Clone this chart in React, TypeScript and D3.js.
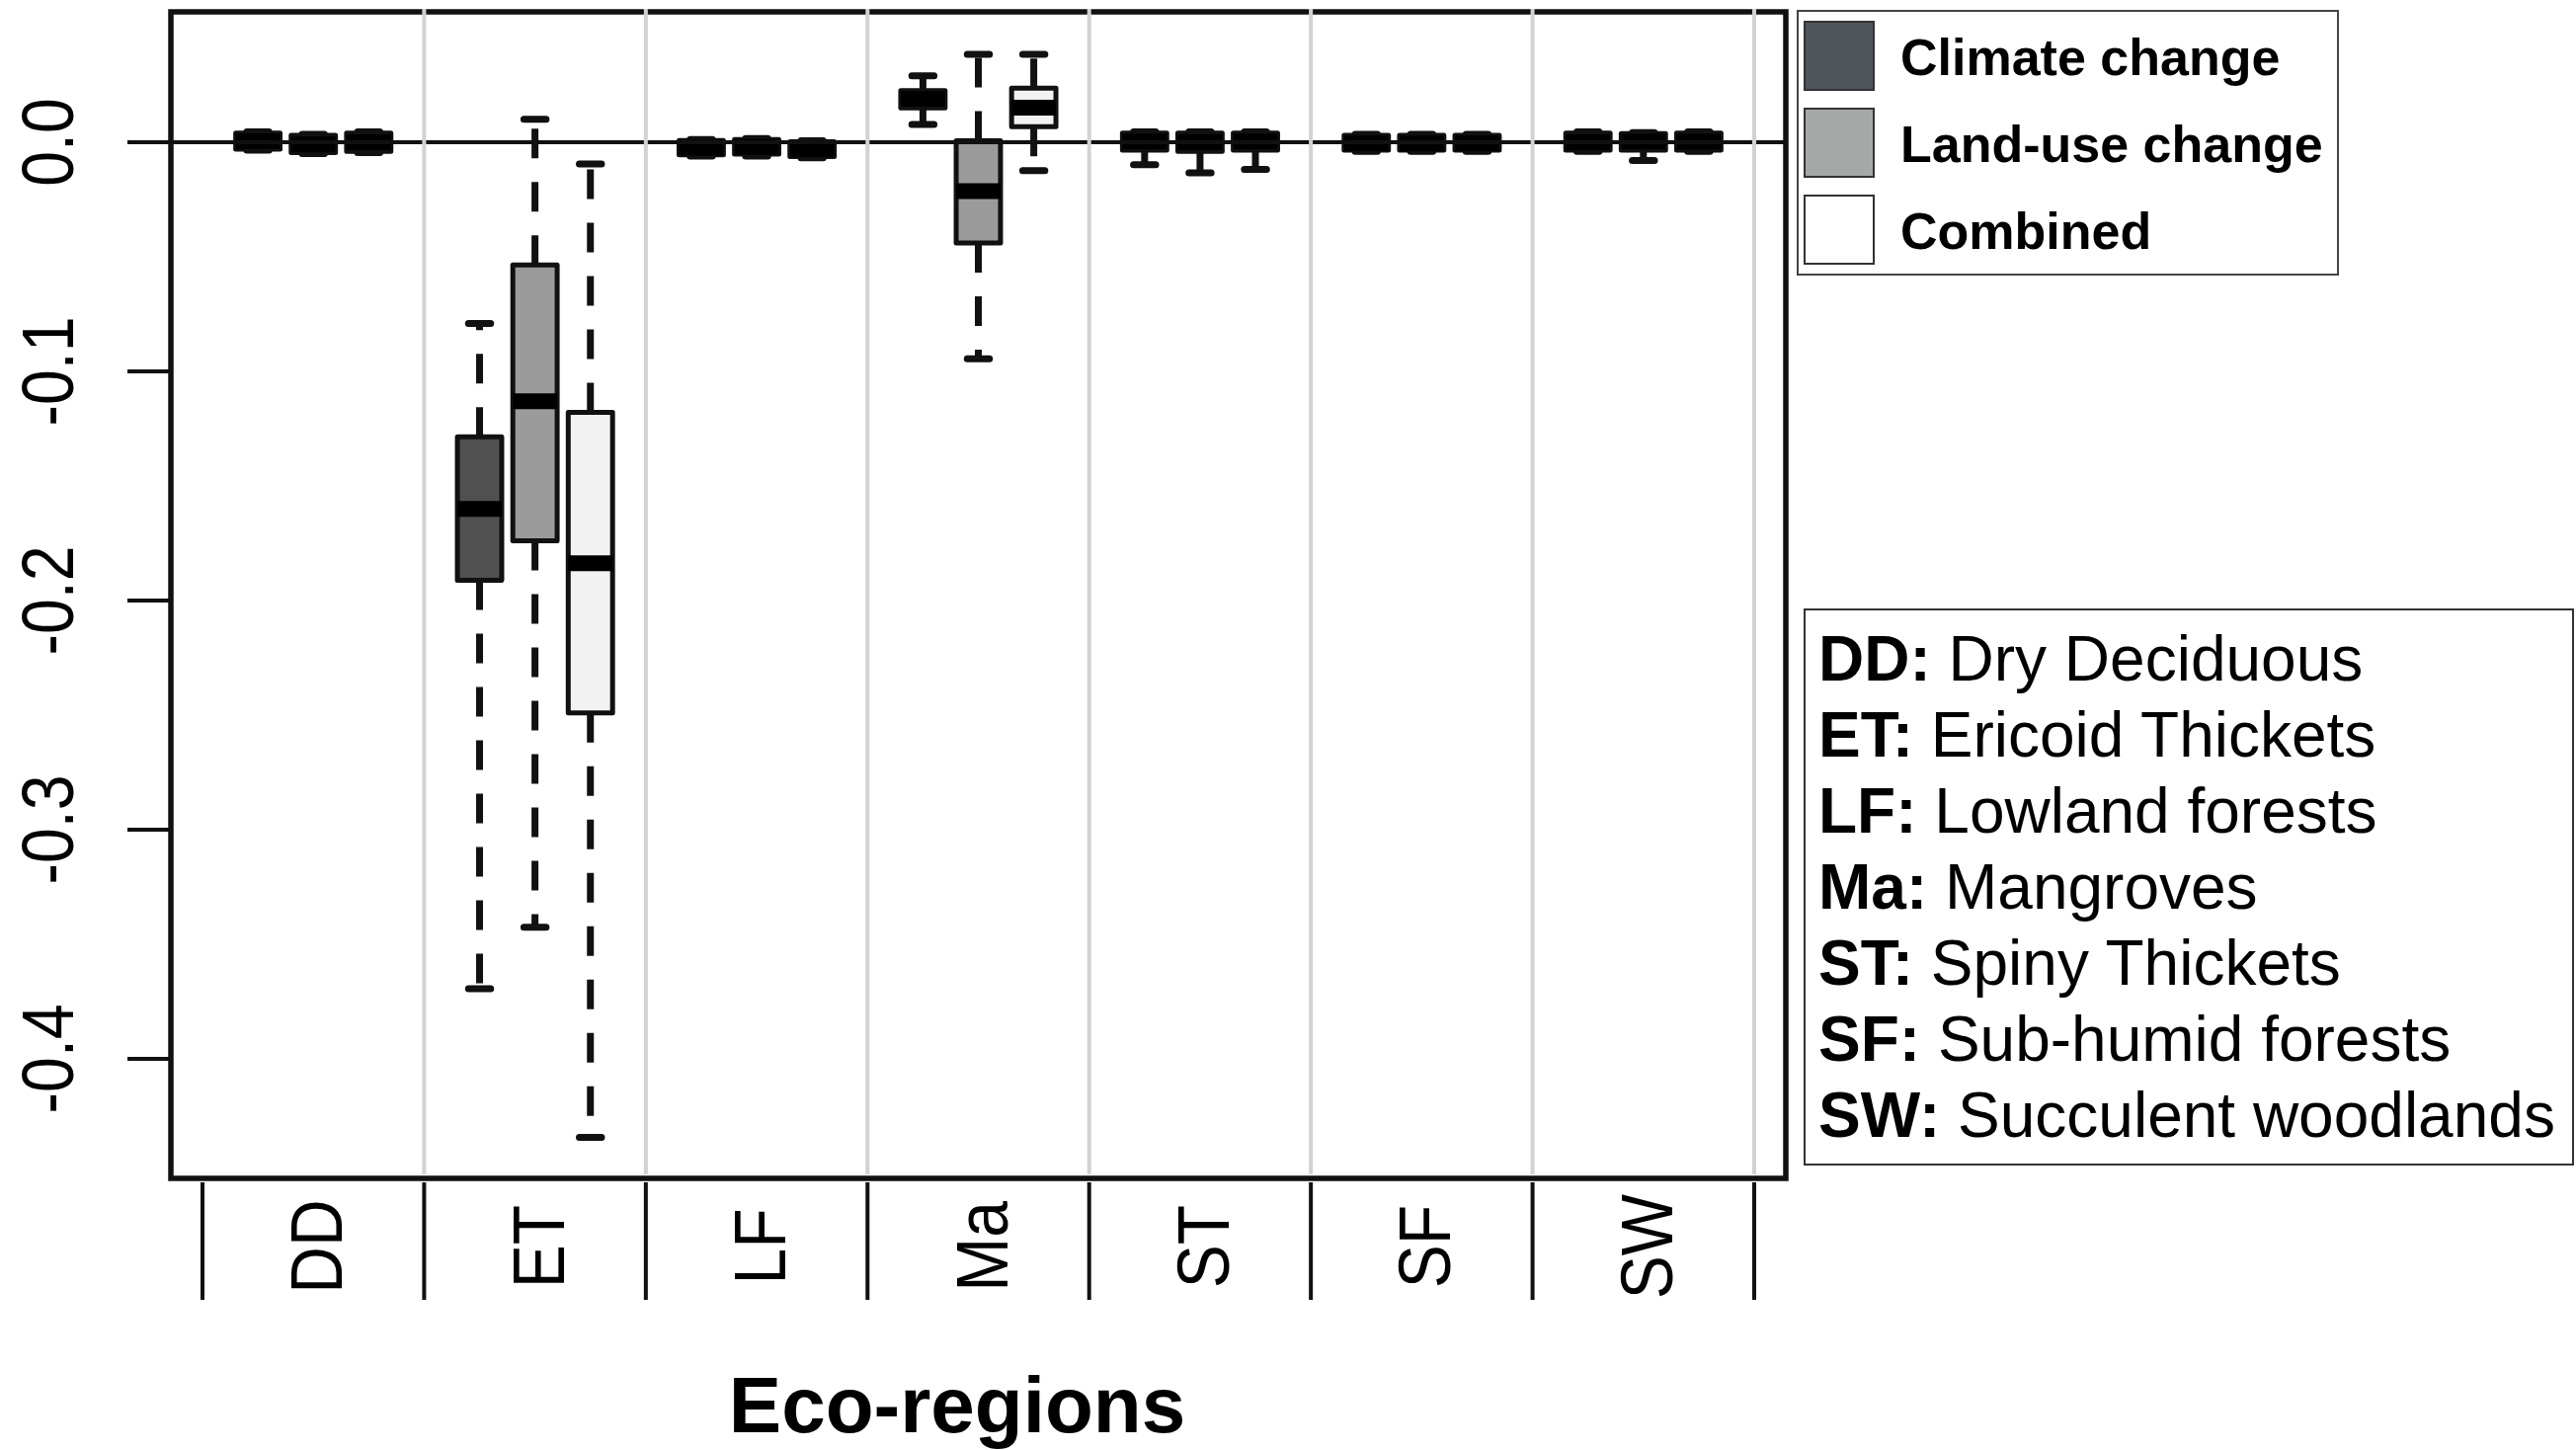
import { useMemo } from "react";
import * as d3 from "d3";

// eco-region codes and names
const ecoRegions = ["DD", "ET", "LF", "Ma", "ST", "SF", "SW"];
const ecoRegionNames = [
  "Dry Deciduous",
  "Ericoid Thickets",
  "Lowland forests",
  "Mangroves",
  "Spiny Thickets",
  "Sub-humid forests",
  "Succulent woodlands",
];

// [lower whisker, Q1, median, Q3, upper whisker] per eco-region
const climateStats = [
  [-0.0035, -0.003, 0.0004, 0.004, 0.0045],
  [-0.3694, -0.1912, -0.16, -0.1286, -0.0791],
  [-0.006, -0.0055, -0.0024, 0.0008, 0.0012],
  [0.0078, 0.015, 0.019, 0.0225, 0.029],
  [-0.0098, -0.0035, 0.0003, 0.004, 0.0045],
  [-0.004, -0.0035, -0.0004, 0.003, 0.0035],
  [-0.004, -0.0035, 0.0, 0.004, 0.0045],
];
const landUseStats = [
  [-0.005, -0.0045, -0.001, 0.003, 0.0035],
  [-0.3426, -0.1739, -0.113, -0.0536, 0.01],
  [-0.006, -0.0052, -0.002, 0.0012, 0.0016],
  [-0.0945, -0.044, -0.0213, 0.0006, 0.0384],
  [-0.0134, -0.004, 0.0, 0.004, 0.0045],
  [-0.004, -0.0035, -0.0005, 0.003, 0.0035],
  [-0.008, -0.0035, 0.0003, 0.0038, 0.0042],
];
const combinedStats = [
  [-0.0045, -0.004, 0.0, 0.004, 0.0045],
  [-0.4343, -0.2491, -0.1838, -0.1179, -0.0095],
  [-0.0068, -0.0062, -0.003, 0.0002, 0.0006],
  [-0.0124, 0.0068, 0.0151, 0.0236, 0.0384],
  [-0.0119, -0.0035, 0.0003, 0.004, 0.0045],
  [-0.004, -0.0035, -0.0004, 0.003, 0.0035],
  [-0.004, -0.0035, 0.0002, 0.004, 0.0045],
];

const seriesNames = ["Climate change", "Land-use change", "Combined"];
const boxFills = ["#505050", "#9b9b9b", "#f2f2f2"];
const legendFills = ["#50555b", "#a5a8a7", "#ffffff"];
const yTicks = [0, -0.1, -0.2, -0.3, -0.4];

const W = 2608;
const H = 1468;
const plot = { left: 173, right: 1808, top: 12, bottom: 1193 };
const FONT = "'Liberation Sans', Arial, Helvetica, sans-serif";

const fmt = d3
  .formatLocale({ decimal: ".", thousands: ",", grouping: [3], currency: ["", ""], minus: "-" })
  .format(".1f");

export default function App() {
  const series = [climateStats, landUseStats, combinedStats];

  // slots: each eco-region takes 4 units, boxes at 1,2,3 and boundaries at 0,4,...
  const x = useMemo(
    () => d3.scaleLinear().domain([-0.57, 28.57]).range([plot.left, plot.right]),
    []
  );
  const y = useMemo(
    () => d3.scaleLinear().domain([-0.4522, 0.0569]).range([plot.bottom, plot.top]),
    []
  );

  const boxW = x(0.8) - x(0);
  const capW = boxW * 0.5;
  const boundaries = d3.range(ecoRegions.length + 1).map((i) => x(i * 4));

  const boxes = ecoRegions.flatMap((_, ci) =>
    series.map((s, si) => ({ cx: x(ci * 4 + si + 1), st: s[ci], fill: boxFills[si], key: `${ci}-${si}` }))
  );

  return (
    <svg
      width={W}
      height={H}
      style={{ position: "fixed", left: 0, top: 0, background: "#fff" }}
      fontFamily={FONT}
    >
      <rect x={0} y={0} width={W} height={H} fill="#fff" />

      {/* whiskers */}
      {boxes.map((b) => {
        const [lo, q1, , q3, hi] = b.st;
        return (
          <g key={"w" + b.key} stroke="#111" strokeWidth={7}>
            <line x1={b.cx} x2={b.cx} y1={y(q3)} y2={y(hi)} strokeDasharray="30 24" />
            <line x1={b.cx} x2={b.cx} y1={y(q1)} y2={y(lo)} strokeDasharray="30 24" />
            <line x1={b.cx - capW / 2} x2={b.cx + capW / 2} y1={y(hi)} y2={y(hi)} strokeLinecap="round" />
            <line x1={b.cx - capW / 2} x2={b.cx + capW / 2} y1={y(lo)} y2={y(lo)} strokeLinecap="round" />
          </g>
        );
      })}

      {/* boxes */}
      {boxes.map((b) => {
        const [, q1, med, q3] = b.st;
        return (
          <g key={"b" + b.key}>
            <rect
              x={b.cx - boxW / 2}
              y={y(q3)}
              width={boxW}
              height={y(q1) - y(q3)}
              fill={b.fill}
              stroke="#111"
              strokeWidth={5}
              strokeLinejoin="round"
            />
            <line x1={b.cx - boxW / 2} x2={b.cx + boxW / 2} y1={y(med)} y2={y(med)} stroke="#000" strokeWidth={16} />
          </g>
        );
      })}

      {/* zero line */}
      <line x1={129} x2={plot.right} y1={y(0)} y2={y(0)} stroke="#111" strokeWidth={4} />

      {/* plot border */}
      <rect
        x={plot.left}
        y={plot.top}
        width={plot.right - plot.left}
        height={plot.bottom - plot.top}
        fill="none"
        stroke="#111"
        strokeWidth={5.5}
      />

      {/* light separators between eco-regions */}
      {boundaries.slice(1).map((bx, i) => (
        <line key={"g" + i} x1={bx} x2={bx} y1={plot.top - 3} y2={plot.bottom - 4} stroke="#d2d2d2" strokeWidth={4} />
      ))}

      {/* y axis */}
      {yTicks.map((t) => (
        <g key={"yt" + t}>
          <line x1={129} x2={plot.left} y1={y(t)} y2={y(t)} stroke="#111" strokeWidth={4} />
          <text
            transform={`translate(74,${y(t)}) rotate(-90) scale(0.86,1)`}
            textAnchor="middle"
            fontSize={75}
            fill="#000"
          >
            {fmt(t)}
          </text>
        </g>
      ))}

      {/* x axis ticks and labels */}
      {boundaries.map((bx, i) => (
        <line key={"xt" + i} x1={bx} x2={bx} y1={1197} y2={1316} stroke="#111" strokeWidth={4} />
      ))}
      {ecoRegions.map((r, ci) => (
        <text
          key={"xl" + r}
          transform={`translate(${x(ci * 4 + 2) + 29},1262) rotate(-90) scale(0.88,1)`}
          textAnchor="middle"
          fontSize={75}
          fill="#000"
        >
          {r}
        </text>
      ))}
      <text x={969} y={1450} textAnchor="middle" fontSize={80} fontWeight="bold" fill="#000">
        Eco-regions
      </text>

      {/* series legend */}
      <rect x={1820} y={11} width={547} height={267} fill="#fff" stroke="#444" strokeWidth={2} />
      {seriesNames.map((n, i) => (
        <g key={"lg" + n}>
          <rect x={1827} y={22 + i * 88} width={70} height={69} fill={legendFills[i]} stroke="#333" strokeWidth={2} />
          <text x={1924} y={76 + i * 88} fontSize={52} fontWeight="bold" fill="#000">
            {n}
          </text>
        </g>
      ))}

      {/* eco-region key */}
      <rect x={1827} y={617} width={778} height={562} fill="#fff" stroke="#333" strokeWidth={2} />
      {ecoRegions.map((r, i) => (
        <text key={"key" + r} x={1841} y={689 + i * 77} fontSize={64} fill="#000" style={{ whiteSpace: "pre" }}>
          <tspan fontWeight="bold">{r + ":"}</tspan>
          <tspan>{" " + ecoRegionNames[i]}</tspan>
        </text>
      ))}
    </svg>
  );
}
